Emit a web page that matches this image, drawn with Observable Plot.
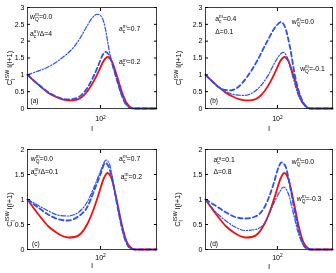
<!DOCTYPE html>
<html><head><meta charset="utf-8">
<script src="https://cdn.jsdelivr.net/npm/d3@7"></script>
<script src="https://cdn.jsdelivr.net/npm/@observablehq/plot@0.6"></script>
<style>
body{margin:0;background:#fff}
#fig{position:relative;width:336px;height:273px;overflow:hidden;background:#fff}
#fig svg{position:absolute;will-change:transform}
</style></head><body><div id="fig"></div>
<script>
// ---------- data ----------
const redL = [2, 3, 4, 6, 9, 13, 18, 25, 35, 50, 70, 90, 120, 145, 180, 240, 315, 400, 500, 620, 800, 2000];
const redV = [1.0, 0.79, 0.65, 0.47, 0.35, 0.27, 0.24, 0.25, 0.32, 0.52, 0.82, 1.1, 1.43, 1.53, 1.42, 0.97, 0.48, 0.17, 0.04, 0, 0, 0];

const aDashL = [2, 3, 4, 6, 9, 13, 18, 25, 35, 50, 70, 90, 110, 130, 155, 190, 240, 300, 380, 480, 600, 2000];
const aDashV = [1.0, 0.80, 0.67, 0.49, 0.37, 0.29, 0.27, 0.29, 0.39, 0.62, 0.98, 1.30, 1.57, 1.68, 1.6, 1.3, 0.85, 0.45, 0.15, 0.03, 0, 0];
const aDotL = [2, 3, 6, 12, 24, 35, 50, 65, 84, 100, 118, 135, 150, 165, 190, 240, 300, 380, 480, 600, 2000];
const aDotV = [1.0, 1.08, 1.23, 1.48, 1.83, 2.13, 2.48, 2.7, 2.8, 2.76, 2.58, 2.25, 1.9, 1.62, 1.3, 0.85, 0.45, 0.15, 0.03, 0, 0];

const bDashL = [2, 3, 4, 6, 8, 11, 19, 33, 56, 92, 121, 151, 198, 259, 355, 480, 600, 2000];
const bDashV = [1.0, 0.78, 0.64, 0.55, 0.54, 0.61, 0.93, 1.41, 1.97, 2.44, 2.57, 2.42, 1.82, 0.98, 0.34, 0.06, 0, 0];
const bDotL = [2, 3, 4, 6, 10, 16, 30, 55, 92, 118, 135, 170, 220, 260, 290, 370, 490, 600, 2000];
const bDotV = [1.0, 0.78, 0.64, 0.5, 0.41, 0.39, 0.52, 0.9, 1.42, 1.62, 1.67, 1.52, 1.03, 0.72, 0.5, 0.2, 0.04, 0, 0];

const cDashL = [2, 3.4, 5.8, 10, 17, 29, 49, 71, 100, 128, 150, 190, 240, 310, 400, 500, 650, 2000];
const cDashV = [1.0, 0.85, 0.71, 0.61, 0.58, 0.65, 0.85, 1.18, 1.51, 1.73, 1.68, 1.38, 0.92, 0.45, 0.13, 0.02, 0, 0];
const cDotL = [2, 3.4, 5.8, 10, 17, 29, 49, 71, 100, 135, 160, 190, 240, 310, 400, 500, 650, 2000];
const cDotV = [1.0, 0.89, 0.78, 0.69, 0.67, 0.73, 0.95, 1.25, 1.57, 1.79, 1.72, 1.42, 0.94, 0.46, 0.13, 0.02, 0, 0];

const dDashL = [2, 3.4, 5.9, 10, 17.5, 30, 52, 81, 106, 123, 152, 200, 262, 344, 451, 600, 2000];
const dDashV = [1.0, 0.88, 0.75, 0.65, 0.62, 0.66, 0.88, 1.31, 1.64, 1.74, 1.68, 1.25, 0.72, 0.28, 0.04, 0, 0];
const dDotL = [2, 3.4, 5.9, 10, 17.5, 30, 52, 81, 116, 139, 182, 239, 313, 411, 540, 700, 2000];
const dDotV = [1.0, 0.76, 0.58, 0.45, 0.38, 0.40, 0.55, 0.91, 1.17, 1.25, 1.11, 0.72, 0.32, 0.09, 0.02, 0, 0];

const yTicksTop = [0, 0.5, 1, 1.5, 2, 2.5, 3];
const yTicksBottom = [0, 0.5, 1, 1.5, 2];
const xTicks = [100];
const xTickLabels = ["10^{2}"];
const yLabel = "C_{l}^{ISW} l(l+1)";
const xLabel = "l";
const letters = ["(a)", "(b)", "(c)", "(d)"];
const annA = ["w_{Q}^{m}=0.0", "a_{c}^{m}/\u0394=4", "a_{c}^{m}=0.7", "a_{c}^{m}=0.2"];
const annB = ["a_{c}^{m}=0.4", "\u0394=0.1", "w_{Q}^{m}=0.0", "w_{Q}^{m}=-0.1"];
const annC = ["w_{Q}^{m}=0.0", "a_{c}^{m}/\u0394=0.1", "a_{c}^{m}=0.7", "a_{c}^{m}=0.2"];
const annD = ["a_{c}^{m}=0.1", "\u0394=0.8", "w_{Q}^{m}=0.0", "w_{Q}^{m}=-0.3"];

// ---------- styling / layout ----------
const BLUE = "#2a50f0";
const RED = "#f01010";
const FONT = "'Liberation Sans', Arial, Helvetica, sans-serif";
const zip = (L, V) => L.map((l, i) => ({l, v: V[i]}));

const panels = [
  {left: 0, top: 0, h: 136, mL: 27, mR: 12, mT: 7, mB: 28, yMax: 3, yTicks: yTicksTop,
   dash: zip(aDashL, aDashV), dot: zip(aDotL, aDotV), letter: letters[0],
   ylx: -17.5, yly: 10, xtp: 11, xly: 20, letDx: 3, letDy: -8,
   ann: annA, annPos: [[2.5, 9], [2.5, 26], [91.5, 21], [91.5, 54.6]]},
  {left: 168, top: 0, h: 136, mL: 37, mR: 4, mT: 7, mB: 28, yMax: 3, yTicks: yTicksTop,
   dash: zip(bDashL, bDashV), dot: zip(bDotL, bDotV), letter: letters[1],
   ylx: -27, yly: 10, xtp: 11, xly: 20, letDx: 4.5, letDy: -8,
   ann: annB, annPos: [[9.7, 11], [9.7, 24.4], [86.3, 14.4], [94.7, 61]]},
  {left: 0, top: 136, h: 137, mL: 27, mR: 12, mT: 13, mB: 24, yMax: 2, yTicks: yTicksBottom,
   dash: zip(cDashL, cDashV), dot: zip(cDotL, cDotV), letter: letters[2],
   ylx: -17.5, yly: 10, xtp: 8.7, xly: 16.5, letDx: 4.5, letDy: -6,
   ann: annC, annPos: [[3.3, 9], [3.3, 22.3], [91.6, 9], [93.3, 27.3]]},
  {left: 168, top: 136, h: 137, mL: 37, mR: 4, mT: 13, mB: 24, yMax: 2, yTicks: yTicksBottom,
   dash: zip(dDashL, dDashV), dot: zip(dDotL, dDotV), letter: letters[3],
   ylx: -27.5, yly: 10, xtp: 8.7, xly: 17, letDx: 4.5, letDy: -6,
   ann: annD, annPos: [[8, 10.7], [8, 22.3], [86.3, 12.3], [91.3, 49]]}
];

const red = zip(redL, redV);

function makePanel(p) {
  const marks = [
    Plot.line(red, {x: "l", y: "v", stroke: RED, strokeWidth: 1.8, curve: "monotone-x"}),
    Plot.line(p.dash, {x: "l", y: "v", stroke: BLUE, strokeWidth: 1.8, strokeDasharray: "4.5,3", curve: "monotone-x"}),
    Plot.line(p.dot, {x: "l", y: "v", stroke: BLUE, strokeWidth: 1.2, strokeDasharray: "4.5,1.8,1.2,1.8", curve: "monotone-x"}),
    Plot.frame({stroke: "#111", strokeWidth: 0.8}),
    Plot.axisY(p.yTicks, {anchor: "left", tickSize: -3, tickPadding: 6, tickFormat: d => String(d), label: null}),
    Plot.axisY(p.yTicks, {anchor: "right", tickSize: -3, fill: "none", label: null}),
    Plot.axisX(xTicks, {anchor: "bottom", tickSize: -3, tickPadding: p.xtp, tickFormat: d => xTickLabels[xTicks.indexOf(d)], label: null}),
    Plot.axisX(xTicks, {anchor: "top", tickSize: -3, fill: "none", label: null}),
    Plot.text([yLabel], {frameAnchor: "left", text: d => d, rotate: -90, textAnchor: "middle", lineAnchor: "middle", dx: p.ylx, dy: p.yly, fontSize: 7.6}),
    Plot.text([xLabel], {frameAnchor: "bottom", text: d => d, lineAnchor: "middle", dy: p.xly, fontSize: 7.5}),
    Plot.text([p.letter], {frameAnchor: "bottom-left", text: d => d, textAnchor: "start", lineAnchor: "middle", dx: p.letDx, dy: p.letDy, fontSize: 6.5}),
    ...p.ann.map((s, i) => Plot.text([s], {frameAnchor: "top-left", text: d => d, textAnchor: "start", lineAnchor: "middle",
      dx: p.annPos[i][0], dy: p.annPos[i][1], fontSize: 6.8}))
  ];
  const svg = Plot.plot({
    width: 168, height: p.h,
    marginLeft: p.mL, marginRight: p.mR, marginTop: p.mT, marginBottom: p.mB,
    x: {type: "log", domain: [2, 2000], label: null},
    y: {domain: [0, p.yMax], label: null},
    style: {fontFamily: FONT, fontSize: "7px", background: "transparent", color: "#000", overflow: "visible"},
    marks
  });
  svg.style.left = p.left + "px";
  svg.style.top = p.top + "px";
  return svg;
}

const NS = "http://www.w3.org/2000/svg";
function richify(t) {
  const s = t.textContent;
  if (!/[_^]\{/.test(s)) return;
  const fs = parseFloat(getComputedStyle(t).fontSize) || 7;
  const parts = [];
  const re = /([_^])\{([^}]*)\}|([^_^]+)/g; let m;
  while ((m = re.exec(s))) parts.push(m[3] != null ? {k: "n", s: m[3]} : {k: m[1], s: m[2]});
  while (t.firstChild) t.removeChild(t.firstChild);
  let cur = 0, pendingDx = 0, i = 0;
  while (i < parts.length) {
    const p = parts[i];
    if (p.k === "n") {
      const ts = document.createElementNS(NS, "tspan");
      ts.textContent = p.s;
      if (cur) ts.setAttribute("dy", -cur);
      if (pendingDx) ts.setAttribute("dx", pendingDx);
      cur = 0; pendingDx = 0;
      t.appendChild(ts); i++;
    } else {
      const group = [p];
      if (i + 1 < parts.length && parts[i + 1].k !== "n" && parts[i + 1].k !== p.k) group.push(parts[i + 1]);
      const widths = [];
      group.forEach((g, j) => {
        const off = g.k === "^" ? -0.4 * fs : 0.3 * fs;
        const ts = document.createElementNS(NS, "tspan");
        ts.textContent = g.s;
        ts.setAttribute("font-size", 0.7 * fs);
        ts.setAttribute("dy", off - cur);
        cur = off;
        if (j === 1) ts.setAttribute("dx", -widths[0]);
        else if (pendingDx) { ts.setAttribute("dx", pendingDx); pendingDx = 0; }
        t.appendChild(ts);
        widths.push(ts.getComputedTextLength());
      });
      if (group.length === 2 && widths[0] > widths[1]) pendingDx = widths[0] - widths[1];
      i += group.length;
    }
  }
}

const fig = document.getElementById("fig");
panels.forEach(p => {
  const svg = makePanel(p);
  fig.appendChild(svg);
  svg.querySelectorAll("text").forEach(richify);
});
</script>
</body></html>
